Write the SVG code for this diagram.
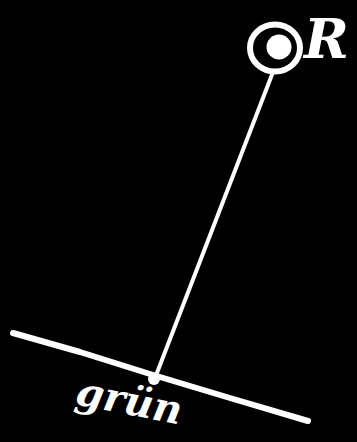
<svg xmlns="http://www.w3.org/2000/svg" width="357" height="442" viewBox="0 0 357 442">
<style>
.ln{stroke:#fff;fill:none;stroke-linecap:round;stroke-linejoin:round}
.lbl{fill:#fff;font-family:"DejaVu Serif","Liberation Serif",serif;font-style:italic;font-weight:bold}
</style>
<rect width="357" height="442" fill="#000"/>
<g id="connectors">
<path class="ln" d="M13,333 L80,352 L150,374 L230,398 L308,421" stroke-width="6"/>
<path class="ln" d="M273,72 L155,378" stroke-width="4"/>
<circle cx="154" cy="379" r="6" fill="#fff"/>
</g>
<g id="node-or">
<ellipse cx="275" cy="48" rx="25" ry="23.5" class="ln" stroke-width="6"/>
<circle cx="279" cy="47" r="12.5" fill="#fff"/>
<text class="lbl" x="304" y="58" font-size="54">R</text>
</g>
<g id="node-gruen">
<text class="lbl" x="74" y="404" font-size="40" transform="rotate(11 74 404)">grün</text>
</g>
</svg>
